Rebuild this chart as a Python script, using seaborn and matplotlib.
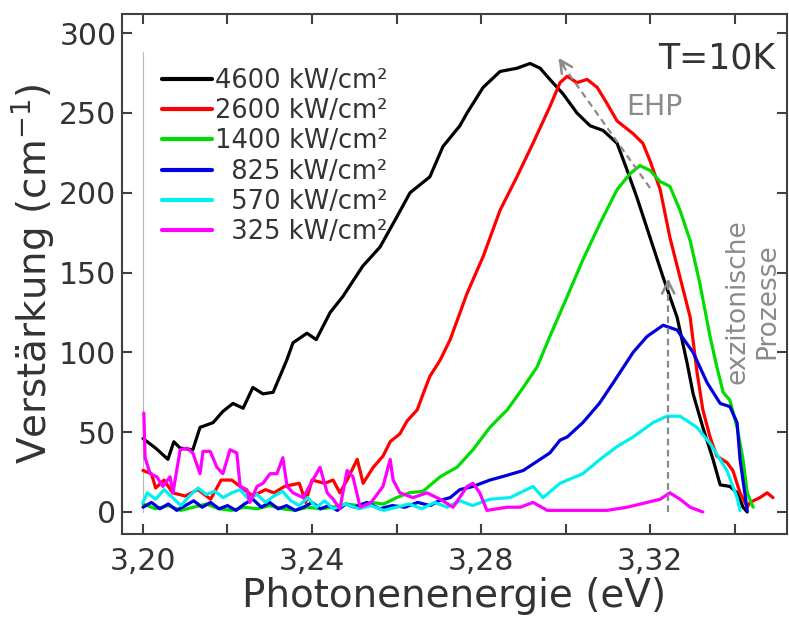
import seaborn as sns
import pandas as pd
from matplotlib import pyplot as plt
from matplotlib.ticker import FixedLocator, FixedFormatter

# gain spectra at 10 K for different excitation densities
e_4600 = [3.2000, 3.2030, 3.2059, 3.2073, 3.2088, 3.2118, 3.2135, 3.2166, 3.2189, 3.2213,
          3.2237, 3.2260, 3.2284, 3.2308, 3.2324, 3.2340, 3.2355, 3.2388, 3.2410, 3.2443,
          3.2473, 3.2520, 3.2561, 3.2601, 3.2632, 3.2679, 3.2710, 3.2750, 3.2767, 3.2805,
          3.2845, 3.2885, 3.2916, 3.2940, 3.2963, 3.2994, 3.3027, 3.3058, 3.3089, 3.3122,
          3.3146, 3.3169, 3.3200, 3.3231, 3.3264, 3.3288, 3.3302, 3.3325, 3.3349, 3.3366,
          3.3389, 3.3406, 3.3420, 3.3430]
g_4600 = [46, 40, 33, 44, 40, 39, 53, 56, 63, 68,
          65, 78, 74, 75, 85, 95, 106, 112, 108, 125,
          135, 154, 166, 185, 200, 210, 229, 242, 250, 266,
          276, 278, 281, 278, 271, 262, 250, 242, 239, 231,
          214, 197, 172, 147, 122, 93, 74, 53, 33, 17,
          16, 12, 3, 0]

e_2600 = [3.2000, 3.2020, 3.2030, 3.2050, 3.2070, 3.2100, 3.2130, 3.2160, 3.2185, 3.2210,
          3.2240, 3.2260, 3.2290, 3.2310, 3.2335, 3.2370, 3.2385, 3.2400, 3.2430, 3.2450,
          3.2466, 3.2483, 3.2507, 3.2521, 3.2545, 3.2568, 3.2585, 3.2608, 3.2625, 3.2649,
          3.2663, 3.2679, 3.2703, 3.2727, 3.2767, 3.2805, 3.2845, 3.2885, 3.2923, 3.2963,
          3.2987, 3.3004, 3.3027, 3.3051, 3.3075, 3.3098, 3.3122, 3.3160, 3.3183, 3.3200,
          3.3224, 3.3247, 3.3271, 3.3295, 3.3311, 3.3325, 3.3342, 3.3358, 3.3382, 3.3396,
          3.3413, 3.3430, 3.3437, 3.3460, 3.3477, 3.3491]
g_2600 = [26, 24, 15, 20, 12, 10, 14, 8, 20, 20,
          14, 10, 14, 12, 16, 18, 6, 20, 18, 20,
          12, 20, 33, 18, 28, 35, 44, 49, 57, 64,
          74, 85, 95, 108, 137, 160, 189, 210, 231, 254,
          269, 273, 269, 271, 266, 256, 245, 237, 231, 220,
          202, 172, 147, 122, 88, 64, 47, 35, 31, 26,
          12, 3, 6, 9, 12, 9]

e_1400 = [3.2000, 3.2030, 3.2060, 3.2090, 3.2120, 3.2150, 3.2180, 3.2210, 3.2240, 3.2270,
          3.2300, 3.2330, 3.2360, 3.2390, 3.2420, 3.2450, 3.2480, 3.2510, 3.2540, 3.2570,
          3.2600, 3.2630, 3.2663, 3.2703, 3.2743, 3.2781, 3.2821, 3.2862, 3.2900, 3.2933,
          3.2963, 3.3004, 3.3041, 3.3082, 3.3122, 3.3153, 3.3176, 3.3200, 3.3224, 3.3247,
          3.3271, 3.3295, 3.3318, 3.3342, 3.3358, 3.3373, 3.3389, 3.3406, 3.3420, 3.3430,
          3.3444]
g_1400 = [5, 2, 4, 1, 3, 5, 2, 1, 3, 2,
          4, 2, 1, 3, 2, 3, 5, 4, 6, 5,
          9, 12, 13, 22, 28, 39, 53, 64, 78, 91,
          110, 135, 158, 181, 202, 212, 217, 214, 207, 204,
          189, 170, 143, 110, 91, 75, 70, 53, 33, 12,
          3]

e_825 = [3.2000, 3.2020, 3.2040, 3.2060, 3.2080, 3.2100, 3.2120, 3.2140, 3.2160, 3.2180,
         3.2200, 3.2220, 3.2240, 3.2260, 3.2280, 3.2300, 3.2320, 3.2340, 3.2360, 3.2380,
         3.2400, 3.2420, 3.2440, 3.2460, 3.2480, 3.2500, 3.2530, 3.2560, 3.2590, 3.2620,
         3.2650, 3.2680, 3.2700, 3.2727, 3.2750, 3.2781, 3.2821, 3.2862, 3.2900, 3.2940,
         3.2963, 3.2987, 3.3004, 3.3041, 3.3080, 3.3113, 3.3160, 3.3193, 3.3231, 3.3264,
         3.3302, 3.3335, 3.3366, 3.3389, 3.3406, 3.3413, 3.3430]
g_825 = [3, 6, 2, 5, 1, 4, 7, 3, 6, 2,
         4, 1, 5, 8, 3, 6, 2, 4, 1, 3,
         6, 2, 4, 1, 5, 3, 6, 2, 4, 3,
         6, 4, 7, 9, 14, 16, 20, 23, 26, 33,
         37, 45, 47, 56, 68, 81, 100, 110, 117, 114,
         100, 81, 68, 66, 56, 33, 1]

e_570 = [3.2000, 3.2010, 3.2030, 3.2050, 3.2070, 3.2090, 3.2110, 3.2130, 3.2150, 3.2170,
         3.2190, 3.2210, 3.2230, 3.2250, 3.2270, 3.2290, 3.2310, 3.2330, 3.2350, 3.2370,
         3.2390, 3.2410, 3.2430, 3.2450, 3.2480, 3.2510, 3.2540, 3.2570, 3.2600, 3.2630,
         3.2660, 3.2690, 3.2720, 3.2750, 3.2780, 3.2821, 3.2869, 3.2923, 3.2947, 3.2987,
         3.3041, 3.3082, 3.3122, 3.3160, 3.3207, 3.3240, 3.3271, 3.3311, 3.3342, 3.3382,
         3.3406, 3.3413]
g_570 = [6, 12, 8, 14, 9, 4, 10, 15, 11, 13,
         9, 12, 14, 8, 11, 6, 10, 13, 7, 4,
         9, 3, 7, 2, 5, 2, 4, 1, 3, 5,
         2, 6, 3, 7, 4, 8, 9, 16, 9, 18,
         24, 33, 41, 47, 56, 60, 60, 53, 43, 26,
         9, 1]

e_325 = [3.2002, 3.2005, 3.2017, 3.2033, 3.2047, 3.2064, 3.2071, 3.2088, 3.2104, 3.2118,
         3.2135, 3.2142, 3.2159, 3.2175, 3.2189, 3.2206, 3.2222, 3.2230, 3.2246, 3.2253,
         3.2270, 3.2284, 3.2301, 3.2317, 3.2331, 3.2341, 3.2355, 3.2379, 3.2402, 3.2419,
         3.2436, 3.2450, 3.2466, 3.2483, 3.2497, 3.2514, 3.2540, 3.2568, 3.2585, 3.2592,
         3.2608, 3.2639, 3.2672, 3.2703, 3.2734, 3.2767, 3.2781, 3.2797, 3.2814, 3.2862,
         3.2893, 3.2923, 3.2957, 3.3000, 3.3050, 3.3098, 3.3146, 3.3193, 3.3224, 3.3247,
         3.3271, 3.3295, 3.3325]
g_325 = [62, 34, 24, 22, 16, 22, 12, 39, 40, 37,
         24, 38, 38, 28, 24, 39, 37, 16, 14, 6,
         16, 18, 24, 24, 34, 16, 12, 9, 20, 28,
         12, 8, 2, 26, 22, 3, 6, 16, 33, 20,
         12, 9, 12, 8, 3, 16, 18, 12, 1, 3,
         3, 6, 1, 1, 1, 1, 3, 6, 8, 12,
         8, 3, 0]

labels = ["4600 kW/cm²", "2600 kW/cm²", "1400 kW/cm²",
          "  825 kW/cm²", "  570 kW/cm²", "  325 kW/cm²"]
colors = ["#000000", "#ff0000", "#00dd00", "#0000dd", "#00f0f0", "#ff00ff"]

x_ticks = [3.20, 3.24, 3.28, 3.32]
x_ticklabels = ["3,20", "3,24", "3,28", "3,32"]
x_minor = [3.22, 3.26, 3.30, 3.34]
y_ticks = [0, 50, 100, 150, 200, 250, 300]

series = [(e_4600, g_4600), (e_2600, g_2600), (e_1400, g_1400),
          (e_825, g_825), (e_570, g_570), (e_325, g_325)]

sns.set_style("ticks")
plt.rcParams['font.family'] = ['DejaVu Sans']
plt.rcParams['mathtext.fontset'] = 'dejavusans'
txt = "#333333"
gray = "#8a8a8a"

fig = plt.figure(figsize=(7.89, 6.19), dpi=100)
ax = fig.add_axes([0.1546, 0.1373, 0.843, 0.8401])

# thin guide line at the left edge of the data
ax.plot([3.20, 3.20], [0, 288], color="#b8b8b8", lw=0.8, zorder=1)

for (e, g), lab, col in zip(series, labels, colors):
    df = pd.DataFrame({"E": e, "g": g})
    sns.lineplot(data=df, x="E", y="g", color=col, lw=2.3, label=lab,
                 estimator=None, sort=False, ax=ax, zorder=3)

# EHP arrow (dashed, pointing up-left)
ax.plot([3.3200, 3.2985], [203, 283], ls=(0, (3, 2)), color=gray, lw=1.6, zorder=4)
ax.annotate("", xy=(3.2980, 286), xytext=(3.3000, 278),
            arrowprops=dict(arrowstyle="->", color=gray, lw=1.8, mutation_scale=22), zorder=4)
# excitonic arrow (dashed, vertical)
ax.plot([3.3243, 3.3243], [0, 144], ls=(0, (3, 2)), color=gray, lw=1.6, zorder=4)
ax.annotate("", xy=(3.3243, 148), xytext=(3.3243, 138),
            arrowprops=dict(arrowstyle="->", color=gray, lw=1.8, mutation_scale=22), zorder=4)

ax.text(3.3143, 249, "EHP", color=gray, fontsize=20.5, ha="left", va="baseline")
ax.text(3.3442, 132, "exzitonische\nProzesse", color=gray, fontsize=19, rotation=90,
        ha="center", va="center", multialignment="center", linespacing=1.2)
ax.text(0.982, 0.896, "T=10K", transform=ax.transAxes, color=txt, fontsize=25,
        ha="right", va="baseline")

ax.set_xlim(3.19503, 3.35244)
ax.set_ylim(-13.8, 312)
ax.xaxis.set_major_locator(FixedLocator(x_ticks))
ax.xaxis.set_major_formatter(FixedFormatter(x_ticklabels))
ax.xaxis.set_minor_locator(FixedLocator(x_minor))
ax.set_yticks(y_ticks)

ax.tick_params(which="both", direction="in", length=7, width=1.5, color="#404040",
               top=True, right=True, labelsize=21.5, labelcolor=txt)
ax.tick_params(axis="x", pad=9)
ax.tick_params(axis="y", pad=4)
for s in ax.spines.values():
    s.set_linewidth(1.5)
    s.set_color("#404040")

ax.set_xlabel("Photonenenergie (eV)", fontsize=28, color=txt, labelpad=1)
ax.set_ylabel(r"Verstärkung (cm$^{-1}$)", fontsize=28, color=txt, labelpad=2)

leg = ax.legend(loc="upper left", bbox_to_anchor=(0.06, 0.897), frameon=False,
                fontsize=18.5, handlelength=1.95, handletextpad=0.1, labelspacing=0.17,
                borderpad=0, borderaxespad=0)
for t in leg.get_texts():
    t.set_color(txt)
for h in leg.get_lines():
    h.set_linewidth(3)

plt.savefig("out.png", dpi=100)
